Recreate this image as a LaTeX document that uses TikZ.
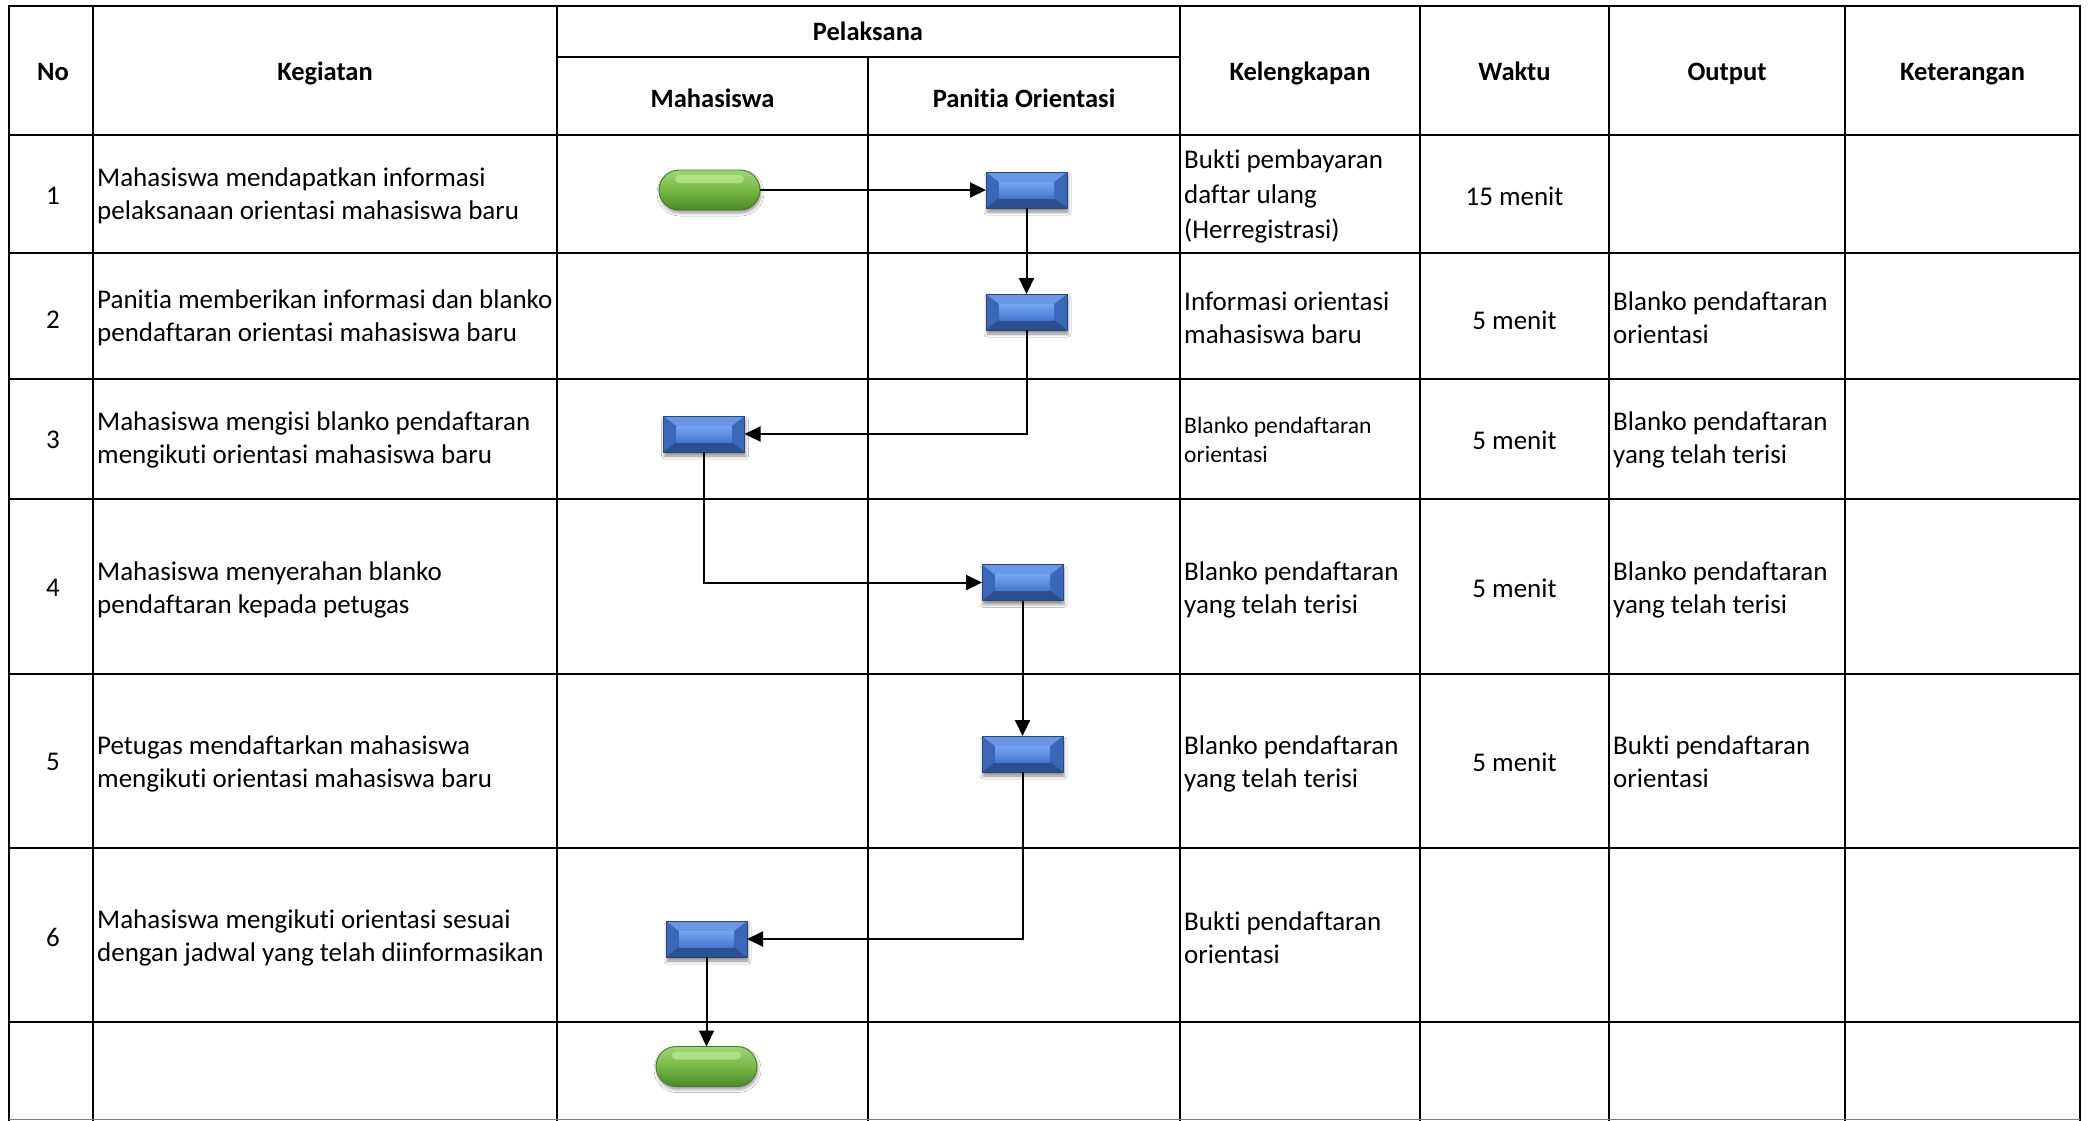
\documentclass[tikz,border=0pt]{standalone}
\usepackage{fontspec}
\setmainfont{Carlito}[Ligatures={NoCommon}]
\usetikzlibrary{arrows.meta,shadows.blur}
\definecolor{procTop}{HTML}{6A97E4}
\definecolor{procBot}{HTML}{2C4F8E}
\definecolor{procSide}{HTML}{3B67B8}
\definecolor{procCenTop}{HTML}{75A6F2}
\definecolor{procCenBot}{HTML}{4677CE}
\definecolor{procEdge}{HTML}{2A4778}
\definecolor{termTop}{HTML}{9ED676}
\definecolor{termMid}{HTML}{76B845}
\definecolor{termBot}{HTML}{4B8729}
\definecolor{termHi}{HTML}{B6E88E}
\definecolor{termEdge}{HTML}{467A27}
\newcommand\cellfont{\fontsize{27}{33}\selectfont}
\newcommand\kelfont{\fontsize{27}{35}\selectfont}
\newcommand\smallcellfont{\fontsize{23.6}{28.5}\selectfont}
\newcommand\hdrfont{\fontsize{26.5}{31}\selectfont\bfseries}
\tikzset{
  grid/.style={line width=2.8pt, line cap=rect},
  txt/.style={inner sep=0pt, align=left, anchor=west, font=\cellfont},
  ctr/.style={inner sep=0pt, align=center, font=\cellfont},
  hdr/.style={inner sep=0pt, align=center, anchor=base, font=\hdrfont},
  flow/.style={line width=2pt, -{Triangle[length=16pt,width=15pt]}},
  proc/.style={rectangle, minimum width=81pt, minimum height=36pt, inner sep=0pt, outer sep=0pt,
    draw=procEdge, line width=0.8pt,
    blur shadow={shadow xshift=1pt, shadow yshift=-4pt, shadow blur radius=3pt, shadow opacity=45},
    path picture={
      \fill[procSide] (path picture bounding box.south west) rectangle (path picture bounding box.north east);
      \fill[procTop] (path picture bounding box.north west) -- (path picture bounding box.north east)
        -- ([xshift=-13pt,yshift=-10pt]path picture bounding box.north east)
        -- ([xshift=13pt,yshift=-10pt]path picture bounding box.north west) -- cycle;
      \fill[procBot] (path picture bounding box.south west) -- (path picture bounding box.south east)
        -- ([xshift=-13pt,yshift=10pt]path picture bounding box.south east)
        -- ([xshift=13pt,yshift=10pt]path picture bounding box.south west) -- cycle;
      \shade[top color=procCenTop, bottom color=procCenBot]
        ([xshift=13pt,yshift=10pt]path picture bounding box.south west)
        rectangle ([xshift=-13pt,yshift=-10pt]path picture bounding box.north east);
    }},
  term/.style={rectangle, rounded corners=20pt, minimum width=101pt, minimum height=40pt,
    inner sep=0pt, outer sep=0pt, draw=termEdge, line width=0.9pt,
    top color=termTop, bottom color=termBot, middle color=termMid,
    blur shadow={shadow xshift=1pt, shadow yshift=-3pt, shadow blur radius=3pt, shadow opacity=40},
    path picture={
      \fill[termHi, opacity=0.8, rounded corners=4pt]
        ([xshift=16pt,yshift=-5pt]path picture bounding box.north west)
        rectangle ([xshift=-16pt,yshift=-13pt]path picture bounding box.north east);
    }},
}
\begin{document}
\begin{tikzpicture}[x=1pt,y=-1pt]
\useasboundingbox (0,0) rectangle (2090,1120);
\fill[white] (0,0) rectangle (2090,1120);
% grid
\foreach \yy in {6,135,253,379,499,674,848,1022}
  \draw[grid] (9,\yy) -- (2080,\yy);
\draw[grid] (557,57) -- (1180,57);
\foreach \xx in {9,93,557,1180,1420,1609,1845,2080}
  \draw[grid] (\xx,6) -- (\xx,1120);
\draw[grid, line width=2.4pt] (868,57) -- (868,1120);
\draw[gray, line width=1pt] (9,1119.5) -- (2080,1119.5);
% header
\node[hdr] (hNo) at (53,80) {No};
\node[hdr] (hKeg) at (325,80) {Kegiatan};
\node[hdr] (hPel) at (868,40) {Pelaksana};
\node[hdr] (hMhs) at (712.5,107) {Mahasiswa};
\node[hdr] (hPan) at (1024,107) {Panitia Orientasi};
\node[hdr] (hKel) at (1300,80) {Kelengkapan};
\node[hdr] (hWak) at (1514.5,80) {Waktu};
\node[hdr] (hOut) at (1727,80) {Output};
\node[hdr] (hKet) at (1962.5,80) {Keterangan};
% numbers
\node[ctr] (n1) at (53,196) {1};
\node[ctr] (n2) at (53,320) {2};
\node[ctr] (n3) at (53,440) {3};
\node[ctr] (n4) at (53,588) {4};
\node[ctr] (n5) at (53,762) {5};
\node[ctr] (n6) at (53,937) {6};
% kegiatan
\node[txt] (k1) at (97,196) {Mahasiswa mendapatkan informasi\\pelaksanaan orientasi mahasiswa baru};
\node[txt] (k2) at (97,318) {Panitia memberikan informasi dan blanko\\pendaftaran orientasi mahasiswa baru};
\node[txt] (k3) at (97,440) {Mahasiswa mengisi blanko pendaftaran\\mengikuti orientasi mahasiswa baru};
\node[txt] (k4) at (97,590) {Mahasiswa menyerahan blanko\\pendaftaran kepada petugas};
\node[txt] (k5) at (97,764) {Petugas mendaftarkan mahasiswa\\mengikuti orientasi mahasiswa baru};
\node[txt] (k6) at (97,938) {Mahasiswa mengikuti orientasi sesuai\\dengan jadwal yang telah diinformasikan};
% kelengkapan
\node[txt, font=\kelfont] (l1) at (1184,196) {Bukti pembayaran\\daftar ulang\\(Herregistrasi)};
\node[txt] (l2) at (1184,318) {Informasi orientasi\\mahasiswa baru};
\node[txt, font=\smallcellfont] (l3) at (1184,440) {Blanko pendaftaran\\orientasi};
\node[txt] (l4) at (1184,590) {Blanko pendaftaran\\yang telah terisi};
\node[txt] (l5) at (1184,764) {Blanko pendaftaran\\yang telah terisi};
\node[txt] (l6) at (1184,938) {Bukti pendaftaran\\orientasi};
% waktu
\node[ctr] (w1) at (1514.5,196) {15 menit};
\node[ctr] (w2) at (1514.5,320) {5 menit};
\node[ctr] (w3) at (1514.5,440) {5 menit};
\node[ctr] (w4) at (1514.5,588) {5 menit};
\node[ctr] (w5) at (1514.5,762) {5 menit};
% output
\node[txt] (o2) at (1613,318) {Blanko pendaftaran\\orientasi};
\node[txt] (o3) at (1613,440) {Blanko pendaftaran\\yang telah terisi};
\node[txt] (o4) at (1613,590) {Blanko pendaftaran\\yang telah terisi};
\node[txt] (o5) at (1613,762) {Bukti pendaftaran\\orientasi};
% flow shapes
\node[term] (t1) at (709.5,190) {};
\node[proc] (p1) at (1026.5,190) {};
\node[proc] (p2) at (1026.5,312) {};
\node[proc] (p3) at (704,434) {};
\node[proc] (p4) at (1022.5,582.5) {};
\node[proc] (p5) at (1022.5,754) {};
\node[proc] (p6) at (706.5,939) {};
\node[term] (t2) at (706.5,1066.5) {};
% connectors
\draw[flow] (t1.east) -- (p1.west);
\draw[flow] (p1.south) -- (p2.north);
\draw[flow] (p2.south) |- (p3.east);
\draw[flow] (p3.south) |- (p4.west);
\draw[flow] (p4.south) -- (p5.north);
\draw[flow] (p5.south) |- (p6.east);
\draw[flow] (p6.south) -- (t2.north);
\end{tikzpicture}
\end{document}
